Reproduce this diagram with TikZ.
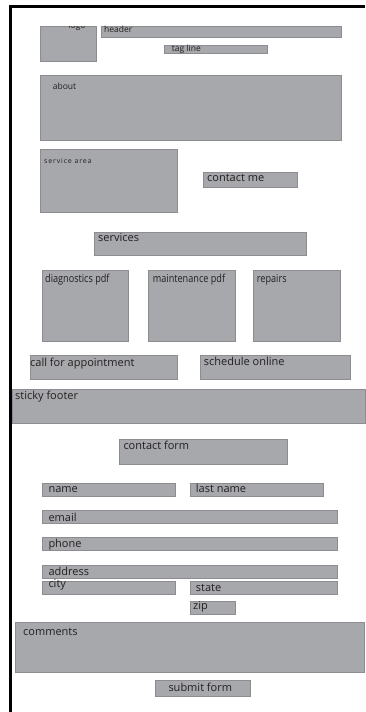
\documentclass[tikz,border=0pt]{standalone}
\usepackage{fontspec}
\setmainfont{Open Sans}
\usepackage{graphicx}
\definecolor{boxgray}{RGB}{167,168,172}
\definecolor{boxedge}{RGB}{140,140,145}
\definecolor{inkblack}{RGB}{35,31,32}

\begin{document}
\begin{tikzpicture}[x=1pt, y=-1pt,
    block/.style={fill=boxgray, draw=boxedge, line width=0.5pt},
    lbl/.style={anchor=base west, inner sep=0pt, text=inkblack, font=\fontsize{11}{13}\selectfont},
    tinylbl/.style={lbl, font=\fontsize{8.5}{10}\selectfont}]
    \useasboundingbox (0,0) rectangle (365,712);

    % Page frame
    \draw[line width=3pt, black] (10.5,712) -- (10.5,6) -- (365,6);

    % Logo, header, tag line
    \draw[block] (40.7,26) rectangle (96,61.7);
    \begin{scope}
        \clip (40.7,26.3) rectangle (96,61.7);
        \node[tinylbl] (logo) at (68.3,28.5) {logo};
    \end{scope}
    \draw[block] (101,26) rectangle (341,37.7);
    \node[tinylbl] (header) at (104,32.6) {header};
    \draw[block] (164,45.7) rectangle (267.7,53.3);
    \node[tinylbl] (tagline) at (171.7,51.5) {tag line};

    % About
    \draw[block] (40.7,75) rectangle (341.7,140.7);
    \node[tinylbl] (about) at (52.7,89.3) {about};

    % Service area and contact
    \draw[block] (40.7,149.3) rectangle (177.7,212.7);
    \node[lbl, font=\fontsize{7}{8}\selectfont\addfontfeatures{LetterSpace=12}] (servicearea) at (44,163.8) {service area};
    \draw[block] (203,172.7) rectangle (297,187.7);
    \node[lbl] (contactme) at (207,181.7) {contact me};

    % Services
    \draw[block] (94,232) rectangle (306.7,255.7);
    \node[lbl] (services) at (98,241.7) {services};
    \draw[block] (42,270) rectangle (128.7,341.7);
    \node[lbl] (diagnostics) at (45,282) {\scalebox{0.83}[1]{diagnostics pdf}};
    \draw[block] (148,270) rectangle (235,341.7);
    \node[lbl] (maintenance) at (152.7,282) {\scalebox{0.83}[1]{maintenance pdf}};
    \draw[block] (253.3,270) rectangle (340,341.7);
    \node[lbl] (repairs) at (256.7,282) {\scalebox{0.83}[1]{repairs}};

    % Appointment buttons
    \draw[block] (30,355.3) rectangle (177.7,379.3);
    \node[lbl] (callappt) at (30,366.5) {call for appointment};
    \draw[block] (200,355.3) rectangle (350.7,379.3);
    \node[lbl] (schedule) at (203.7,365.5) {schedule online};

    % Sticky footer
    \draw[block] (12,389.3) rectangle (365,423.3);
    \node[lbl] (footer) at (15,399) {sticky footer};

    % Contact form
    \draw[block] (119.3,439) rectangle (287.7,464.7);
    \node[lbl] (contactform) at (123.3,449.3) {contact form};
    \draw[block] (42.3,483) rectangle (175.7,496);
    \node[lbl] (name) at (48.3,492.7) {name};
    \draw[block] (190,483) rectangle (323.3,496);
    \node[lbl] (lastname) at (195.7,492.7) {last name};
    \draw[block] (42.3,510) rectangle (337.7,523.3);
    \node[lbl] (email) at (48.3,521) {email};
    \draw[block] (42.3,537.3) rectangle (337.7,550.7);
    \node[lbl] (phone) at (48.3,547) {phone};
    \draw[block] (42.3,565) rectangle (337.7,578.3);
    \node[lbl] (address) at (48.3,575) {address};
    \draw[block] (42.3,581.7) rectangle (175.7,594.7);
    \node[lbl] (city) at (48.3,587.5) {city};
    \draw[block] (190,581.7) rectangle (337.7,594.7);
    \node[lbl] (state) at (195.7,591.5) {state};
    \draw[block] (190,601) rectangle (235,614.7);
    \node[lbl] (zip) at (193,609.5) {zip};
    \draw[block] (15,622.3) rectangle (364.3,672.3);
    \node[lbl] (comments) at (23,635) {comments};
    \draw[block] (155.3,680) rectangle (250,696.7);
    \node[lbl] (submit) at (168.3,691.7) {submit form};
\end{tikzpicture}
\end{document}
